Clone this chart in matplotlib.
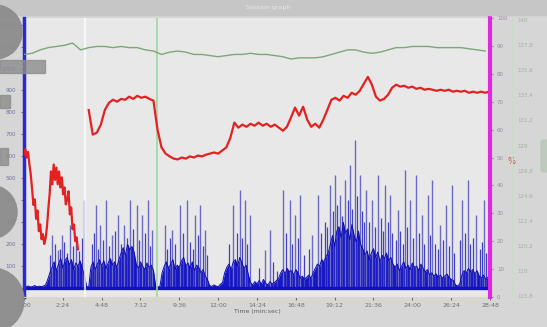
import numpy as np
import matplotlib.pyplot as plt
from matplotlib.patches import Ellipse, Rectangle, FancyBboxPatch

# power (W), sampled every 8 s
power_t = np.arange(216) * 8
power_w = [8, 6, 10, 5, 8, 12, 6, 9, 7, 10, 15,
           40, 70,
           95, 120, 80, 110, 135, 90, 125, 140, 105, 130, 85, 115, 100, 125, 90, 60,
           8, 5,
           95, 120, 85, 110, 130, 100, 125, 90, 115, 135, 105, 120, 95, 130,
           160, 185, 150, 200, 175, 190, 165,
           110, 90, 120, 100, 85, 115, 95, 105, 80,
           10, 5, 8,
           70, 100, 120, 90, 110, 130, 85, 105, 95, 125, 140, 100, 115, 90, 120, 80,
           105, 95, 70, 85, 55, 40,
           12, 8, 15, 10, 6, 18, 25,
           70, 95, 110, 85, 120, 130, 100, 140, 115, 90, 105, 60,
           25, 15, 30, 20, 35, 18, 40, 22, 15, 30, 20, 25, 35, 45,
           70, 85, 65, 90, 75, 80, 60, 85, 70,
           45, 55, 40, 50, 60, 45, 70,
           90, 110, 100, 130, 120, 145, 160,
           200, 240, 190, 260, 280, 230, 300, 250, 270, 220, 290, 240, 210, 260, 200, 180,
           150, 170, 130, 160, 180, 140, 165, 120, 150, 135, 160, 125, 140, 110,
           95, 110, 80, 100, 120, 90, 105, 85, 115, 95, 100, 80, 110, 90, 75, 85,
           60, 70, 55, 65, 50, 60, 45, 55, 65, 50, 40, 35,
           15, 10, 20,
           60, 80, 70, 90, 75, 85, 65, 80,
           55, 45, 60, 40, 50]

# tall power peaks (s, W)
peak_t = [104, 126, 141, 171, 193, 222, 267, 282, 304, 326, 349, 371, 393, 419,
          438, 460, 475, 523, 549, 578, 604, 634, 653, 671, 775, 801, 819, 838,
          894, 912, 960, 986, 1005, 1023, 1068, 1090, 1135, 1153, 1172, 1190,
          1209, 1227, 1246, 1268, 1290, 1313, 1339, 1357, 1387, 1413, 1431,
          1454, 1476, 1498, 1513, 1543, 1565, 1587, 1624, 1646, 1676, 1706]
peak_w = [241, 173, 241, 286, 218, 400, 377, 286, 400, 241, 332, 286, 400, 377,
          332, 400, 264, 286, 264, 377, 400, 332, 377, 264, 377, 445, 400, 332,
          173, 264, 445, 400, 332, 423, 241, 423, 468, 514, 423, 491,
          559, 673, 514, 445, 400, 514, 468, 423, 355, 536, 400,
          514, 332, 423, 491, 286, 377, 468, 400, 491, 332, 400]

# shorter bursts between the peaks (s, W)
burst_t = [96, 115, 134, 150, 160, 182, 205, 214,
           252, 260, 275, 292, 315, 338, 360, 382, 405, 428, 448, 468,
           530, 540, 560, 590, 615, 625, 645, 662, 680,
           760, 790, 810, 828, 870, 925, 940, 970, 995, 1015, 1040, 1055,
           1100, 1115, 1125, 1145, 1162, 1180, 1200, 1218, 1236, 1255, 1262,
           1280, 1300, 1322, 1330, 1348, 1365,
           1378, 1395, 1405, 1422, 1442, 1465, 1485, 1505,
           1525, 1535, 1555, 1575, 1595,
           1615, 1635, 1655, 1666, 1690, 1698, 1715]
burst_w = [150, 200, 180, 210, 160, 190, 170, 230,
           200, 250, 180, 220, 190, 260, 200, 230, 270, 220, 250, 190,
           180, 230, 200, 250, 210, 180, 240, 190, 150,
           200, 250, 230, 200, 90, 120, 80, 250, 200, 230, 150, 180,
           250, 300, 280, 350, 380, 330, 400, 360, 420, 350, 300,
           300, 280, 320, 260, 300, 250,
           220, 260, 200, 280, 230, 250, 200, 240,
           200, 180, 220, 190, 160,
           220, 250, 200, 230, 180, 210, 160]

# saturation (%), first block every 5 s, second block every 15 s
sat_t1 = np.arange(0, 205, 5)
sat_1 = [51, 53, 50, 52, 47.5, 44, 38.6, 33, 35, 28, 31, 23.6, 26, 20.7, 22.5,
         19, 21, 25, 31.4, 36.8, 45, 40.4, 47.5, 42, 46.4, 40.4, 45, 39.3, 42.9,
         36.8, 39.3, 33.2, 35, 37.9, 29.6, 32.1, 24.3, 26, 20, 21.4, 17.1]
sat_t2 = np.arange(240, 1730, 15)
sat_2 = [67, 58.2, 58.9, 61.8, 67.1, 69.6, 70.7, 70, 71, 70.7,
         71.8, 71, 72.1, 71.4, 71.8, 71, 70.4, 60, 53.6, 51.4,
         50.4, 49.6, 49.3, 50, 49.6, 50.4, 50, 50.7, 50.4, 51,
         51.4, 51.8, 51.4, 52.5, 53.6, 57, 62.5, 60.7, 61.8, 61,
         62.1, 61.4, 62.5, 61.4, 62.1, 61, 61.8, 60.7, 59.6, 61,
         64.3, 67.9, 65, 68.2, 63.6, 61, 62.1, 60.7, 63.6, 67.1,
         70.7, 71.4, 70.4, 72.1, 71.4, 73.2, 72.5, 73.9, 76.4, 78.9,
         76.1, 71.8, 70.4, 71, 72.5, 75, 76.1, 75.4, 75.7, 75,
         75.4, 74.6, 75, 74.3, 74.6, 74.3, 73.9, 74.3, 73.9, 74.3,
         73.6, 73.9, 73.6, 73.9, 73.2, 73.6, 73.2, 73.6, 73.2, 73.6]

# elevation, every 30 s
elev_t = np.arange(58) * 30
elev = [137.0, 137.1, 137.4, 137.6, 137.7, 137.8, 138.0, 137.4, 137.6, 137.7,
        137.7, 137.6, 137.7, 137.6, 137.6, 137.4, 137.3, 137.0, 137.2, 137.3,
        137.2, 137.0, 137.0, 136.9, 136.8, 136.9, 137.0, 137.0, 137.1, 137.0,
        137.0, 136.9, 136.8, 136.6, 136.7, 136.7, 136.7, 136.8, 137.0, 137.2,
        137.4, 137.4, 137.2, 137.1, 137.2, 137.4, 137.6, 137.6, 137.7, 137.7,
        137.7, 137.6, 137.6, 137.6, 137.6, 137.5, 137.4, 137.3]

time_ticks = np.arange(0, 1729, 144)
time_labels = ['0:00', '2:24', '4:48', '7:12', '9:36', '12:00', '14:24',
               '16:48', '19:12', '21:36', '24:00', '26:24', '28:48']
power_ticks = list(range(0, 1201, 100))
sat_ticks = list(range(0, 101, 10))
elev_ticks = [115.8, 118.0, 120.2, 122.4, 124.6, 126.8, 129.0,
              131.2, 133.4, 135.6, 137.8, 140.0]
lap_marks = [226, 493]

fig = plt.figure(figsize=(5.47, 3.27), dpi=100, facecolor='#d6d6d6')
ax = fig.add_axes([24/547, 30/327, 466/547, 279/327])
ax.set_facecolor('#e8e8e8')

# power
ax.vlines(peak_t, 0, peak_w, color='#6a6ac4', lw=1.0)
ax.vlines(burst_t, 0, burst_w, color='#4040c0', lw=0.9)
ax.fill_between(power_t, 0, power_w, color='#1616c8', lw=0)
ax.plot(power_t, power_w, color='#0c0cb4', lw=0.7)
ax.axhline(0, color='#1010c0', lw=2.4)
ax.axvline(lap_marks[0], color='white', lw=1.6, alpha=0.7)
ax.axvline(lap_marks[1], color='#9ed89e', lw=1.2)

ax.set_xlim(0, 1728)
ax.set_ylim(-40, 1230)
ax.set_xticks(time_ticks)
ax.set_xticklabels(time_labels)
ax.set_yticks(power_ticks)
ax.tick_params(axis='x', labelsize=4.5, colors='#707070', length=2, pad=2)
ax.tick_params(axis='y', labelsize=4, colors='#7070a0', length=2, pad=4)
ax.set_xlabel('Time (min:sec)', fontsize=4.5, color='#606060', labelpad=1)
ax.spines['left'].set_color('#2a2ad0')
ax.spines['left'].set_linewidth(2.5)
ax.spines['bottom'].set_color('#e0e09a')
ax.spines['bottom'].set_linestyle(':')
ax.spines['top'].set_visible(False)
ax.spines['right'].set_visible(False)

# saturation
ax2 = ax.twinx()
ax2.plot(sat_t1, sat_1, color='#e42020', lw=1.6)
ax2.plot(sat_t2, sat_2, color='#e42020', lw=1.6)
ax2.set_ylim(0, 100)
ax2.set_yticks(sat_ticks)
ax2.tick_params(axis='y', labelsize=4, colors='#9a8aa0', length=2, pad=3)
ax2.set_ylabel('%', rotation=0, color='#d05050', fontsize=6)
ax2.yaxis.set_label_coords(1.047, 0.5)
for s in ['left', 'top', 'bottom']:
    ax2.spines[s].set_visible(False)
ax2.spines['right'].set_color('#e028e0')
ax2.spines['right'].set_linewidth(3)

# elevation
ax3 = ax.twinx()
ax3.plot(elev_t, elev, color='#7aa87a', lw=1.0)
ax3.set_ylim(115.7, 140.2)
ax3.set_yticks(elev_ticks)
ax3.set_yticklabels(['%g' % v for v in elev_ticks])
ax3.spines['right'].set_position(('outward', 16))
ax3.tick_params(axis='y', labelsize=4, colors='#a0b4a0', length=0, pad=4)
for s in ['left', 'top', 'bottom']:
    ax3.spines[s].set_visible(False)
ax3.spines['right'].set_color('#c8dcc8')
ax3.spines['right'].set_linewidth(0.8)

# window title bar
fig.patches.append(Rectangle((0, 312/327), 1, 15/327, transform=fig.transFigure,
                             color='#c6c6c6'))
fig.text(0.49, 0.977, 'Session graph', color='white', fontsize=4.5, alpha=0.6,
         ha='center', va='center')

# grey overlay buttons on the left edge
tr = fig.dpi_scale_trans
def px(x, y):
    return (x / 100, (327 - y) / 100)

for cx, cy, r in [(-5, 32, 27), (-10, 212, 27), (-8, 300, 32)]:
    fig.patches.append(Ellipse(px(cx, cy), 2*r/100, 2*r/100, transform=tr,
                               color='#8c8c8c', alpha=0.95))
for x0, y0, w, h in [(0, 73, 45, 13), (0, 108, 10, 13), (0, 165, 8, 17)]:
    fig.patches.append(Rectangle(px(x0, y0), w/100, h/100, transform=tr,
                                 color='#8c8c8c', alpha=0.8))
fig.patches.append(FancyBboxPatch(px(541, 172), 0.08, 0.32, transform=tr,
                                  boxstyle='round,pad=0,rounding_size=0.03',
                                  color='#b8c8b8', alpha=0.8))

fig.savefig('out.png', dpi=100, facecolor=fig.get_facecolor())
